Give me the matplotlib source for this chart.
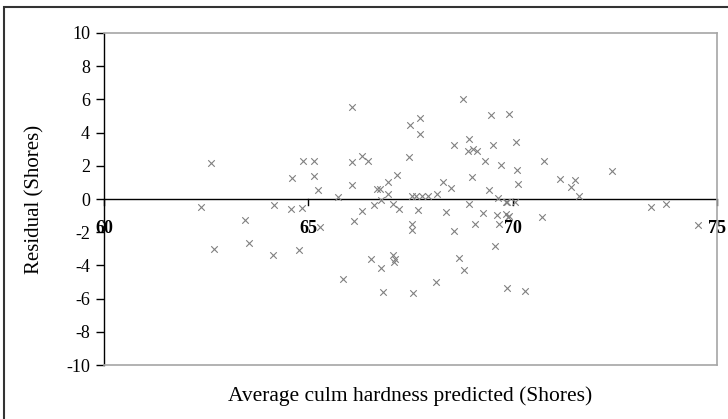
import numpy as np
import matplotlib
matplotlib.use("Agg")
import matplotlib.pyplot as plt
from matplotlib.patches import Rectangle

plt.rcParams['font.family'] = ['Liberation Serif', 'DejaVu Serif']

# predicted hardness (Shores) and residuals
predicted = [62.37, 62.61, 62.70, 63.44, 63.55, 64.15, 64.14, 64.61, 64.58, 64.84,
             64.78, 64.88, 65.14, 65.15, 65.24, 65.29, 65.73, 65.86, 66.08, 66.06,
             66.06, 66.11, 66.31, 66.46, 66.31, 66.54, 66.61, 66.69, 66.75, 66.77,
             66.83, 66.79, 66.96, 66.95, 67.08, 67.08, 67.10, 67.12, 67.16, 67.21,
             67.46, 67.49, 67.54, 67.54, 67.57, 67.53, 67.63, 67.74, 67.74, 67.69,
             67.77, 67.92, 68.16, 68.12, 68.30, 68.37, 68.48, 68.57, 68.57, 68.69,
             68.81, 68.78, 68.94, 68.90, 69.03, 69.12, 69.01, 68.94, 69.09, 69.27,
             69.32, 69.42, 69.47, 69.52, 69.57, 69.65, 69.61, 69.66, 69.72, 69.85,
             69.90, 69.83, 69.83, 69.92, 70.09, 70.11, 70.12, 70.06, 69.85, 69.89,
             70.31, 70.76, 70.72, 71.17, 71.52, 71.42, 71.63, 72.43, 73.38, 73.75,
             74.54]
residual = [-0.48, 2.16, -3.00, -1.24, -2.64, -0.34, -3.36, 1.28, -0.60, -0.56,
            -3.10, 2.28, 2.26, 1.36, 0.56, -1.70, 0.12, -4.83, 5.56, 2.22,
            0.82, -1.34, 2.58, 2.28, -0.72, -3.59, -0.36, 0.62, 0.62, -4.13,
            -5.61, -0.06, 0.28, 1.04, -0.28, -3.36, -3.78, -3.63, 1.42, -0.60,
            2.52, 4.46, -1.48, -1.88, -5.65, 0.18, 0.18, 4.86, 3.94, -0.66,
            0.18, 0.18, 0.28, -5.03, 1.00, -0.78, 0.66, 3.28, -1.90, -3.54,
            -4.29, 6.00, 3.64, 2.88, 3.00, 2.88, 1.34, -0.28, -1.48, -0.86,
            2.28, 0.52, 5.06, 3.24, -2.85, 0.04, -0.98, -1.52, 2.06, -5.37,
            5.10, -0.16, -0.88, -1.04, 3.46, 1.76, 0.90, -0.20, -0.20, -1.10,
            -5.55, 2.28, -1.08, 1.22, 1.16, 0.70, 0.16, 1.70, -0.48, -0.28,
            -1.54]
x_ticks = [60, 65, 70, 75]
y_ticks = list(range(-10, 11, 2))

fig = plt.figure(figsize=(7.28, 4.19), dpi=100)
fig.patches.append(Rectangle((4 / 728, -0.05), 1.05, 1 - 7 / 419 + 0.05,
                             transform=fig.transFigure, fill=False,
                             edgecolor='#333333', linewidth=1.5))
ax = fig.add_axes([104 / 728, 1 - 365 / 419, 613 / 728, 332 / 419])

ax.scatter(predicted, residual, marker='x', s=22, color='#808080', linewidths=0.8,
           zorder=3, clip_on=False)

ax.set_xlim(60, 75)
ax.set_ylim(-10, 10)

# frame: black left axis, gray top/right/bottom
ax.spines['left'].set_color('black')
ax.spines['left'].set_linewidth(1.0)
for s in ['top', 'right', 'bottom']:
    ax.spines[s].set_color('#a6a6a6')
    ax.spines[s].set_linewidth(1.2)
ax.axhline(0, color='black', linewidth=1.0, zorder=2)

ax.set_yticks(y_ticks)
ax.set_yticklabels([str(v) for v in y_ticks], fontsize=13)
ax.tick_params(axis='y', direction='out', length=6, width=1, color='black', pad=4)

# x ticks sit on the zero line, labels bold just below it
ax.set_xticks([])
for v in x_ticks:
    ax.plot([v, v], [0, -0.35], color='black', linewidth=1, clip_on=False, zorder=2)
    ax.text(v, -1.8, str(v), ha='center', va='center', fontsize=13,
            fontweight='bold')

ax.set_ylabel('Residual (Shores)', fontsize=15, labelpad=16)
fig.text(0.563, 1 - 396 / 419, 'Average culm hardness predicted (Shores)',
         ha='center', va='center', fontsize=15.5)

fig.savefig('out.png', dpi=100)
